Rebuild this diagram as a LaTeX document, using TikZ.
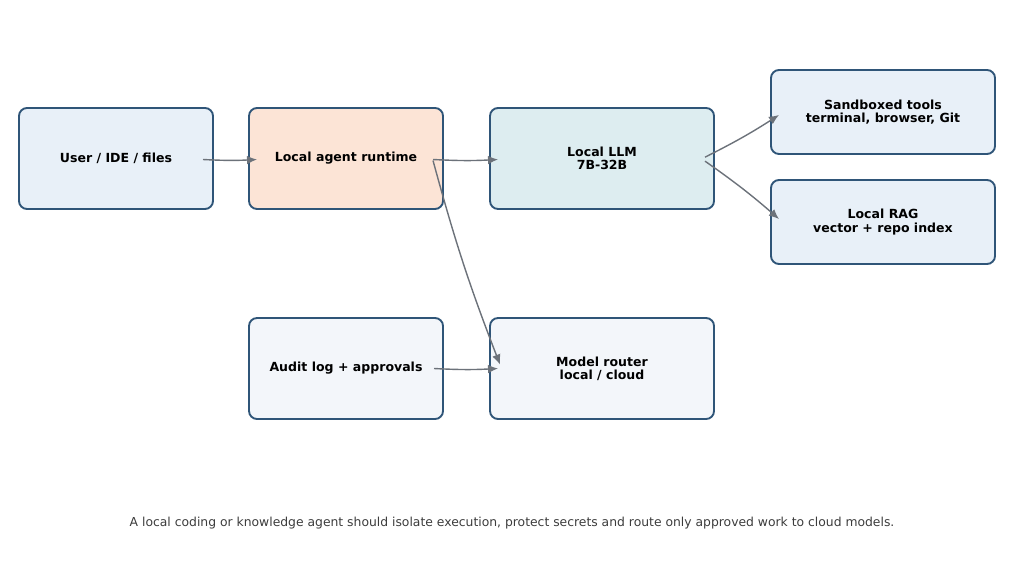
\documentclass[tikz,border=0pt]{standalone}
\usepackage{fontspec}
\setmainfont{DejaVu Sans}
\usepackage{xcolor}
\usepackage{tikz}
\usetikzlibrary{arrows.meta,positioning}
\definecolor{agentline}{RGB}{47,85,120}
\definecolor{agentarrow}{RGB}{108,114,122}
\definecolor{agentblue}{RGB}{232,240,248}
\definecolor{agentpeach}{RGB}{252,228,214}
\definecolor{agentteal}{RGB}{221,237,240}
\definecolor{agentpale}{RGB}{243,246,250}
\definecolor{agentcaption}{RGB}{60,60,60}
\tikzset{
  agentbox/.style={
    rectangle,
    rounded corners=0.24cm,
    draw=agentline,
    line width=1.6pt,
    align=center,
    minimum width=5.82cm,
    minimum height=3.03cm,
    outer sep=0pt,
    inner sep=2pt,
    font=\fontsize{10.7}{11.3}\selectfont\bfseries
  },
  agentwide/.style={
    agentbox,
    minimum width=6.72cm
  },
  agentarrow/.style={
    -{Latex[length=0.3cm,width=0.26cm]},
    line width=1.2pt,
    draw=agentarrow
  }
}

\begin{document}
\begin{tikzpicture}[x=0.03cm,y=-0.03cm]
\useasboundingbox (0,0) rectangle (1024,571);
\node[agentbox, fill=agentblue] (user) at (116,158.5) {User / IDE / files};
\node[agentbox, fill=agentpeach, right=1.08cm of user] (runtime) {Local agent runtime};
\node[agentwide, fill=agentteal, right=1.41cm of runtime] (llm) {Local LLM\\7B-32B};
\node[agentwide, fill=agentblue, minimum height=2.52cm] (tools) at (883,112) {Sandboxed tools\\terminal, browser, Git};
\node[agentwide, fill=agentblue, minimum height=2.52cm, below=0.78cm of tools] (rag) {Local RAG\\vector + repo index};
\node[agentbox, fill=agentpale, below=3.27cm of runtime] (audit) {Audit log + approvals};
\node[agentwide, fill=agentpale, below=3.27cm of llm] (router) {Model router\\local / cloud};
\node[font=\fontsize{10.55}{12}\selectfont, text=agentcaption] (caption) at (512,523)
  {A local coding or knowledge agent should isolate execution, protect secrets and route only approved work to cloud models.};

\draw[agentarrow] ([xshift=-0.3cm,yshift=-0.03cm]user.east) to[bend right=3] ([xshift=0.24cm,yshift=-0.03cm]runtime.west);
\draw[agentarrow] ([xshift=-0.3cm,yshift=-0.03cm]runtime.east) to[bend right=3] ([xshift=0.24cm,yshift=-0.03cm]llm.west);
\draw[agentarrow] ([xshift=-0.27cm,yshift=0.04cm]llm.east) to[bend right=3] ([xshift=0.24cm,yshift=-0.09cm]tools.west);
\draw[agentarrow] ([xshift=-0.27cm,yshift=-0.08cm]llm.east) to[bend left=3] ([xshift=0.24cm,yshift=0.09cm]rag.west);
\draw[agentarrow] ([xshift=-0.3cm,yshift=-0.06cm]runtime.east) to[bend right=3] ([xshift=0.3cm,yshift=0.12cm]router.west);
\draw[agentarrow] ([xshift=-0.27cm]audit.east) to[bend right=3] ([xshift=0.24cm]router.west);
\end{tikzpicture}
\end{document}
